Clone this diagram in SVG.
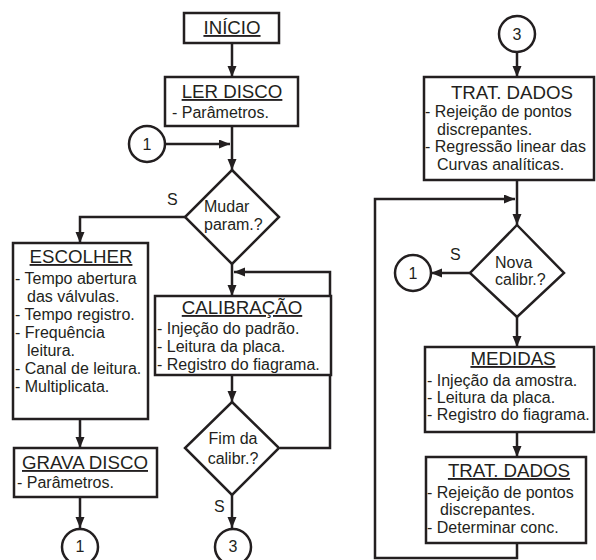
<svg xmlns="http://www.w3.org/2000/svg" width="596" height="560" viewBox="0 0 596 560">
<style>
.bx{fill:#fff;stroke:#231f20;stroke-width:2.5}
.ln{fill:none;stroke:#231f20;stroke-width:2.5}
.t{font-family:"Liberation Sans",Arial,sans-serif;font-size:16px;fill:#231f20}
.h{font-family:"Liberation Sans",Arial,sans-serif;font-size:18.7px;fill:#231f20;text-anchor:middle}
.u{text-decoration:underline}
.c{text-anchor:middle}
</style>
<defs>
<marker id="ar" markerUnits="userSpaceOnUse" markerWidth="12" markerHeight="10" refX="11" refY="4.5" orient="auto">
<path d="M0,0 L11,4.5 L0,9 z" fill="#231f20"/>
</marker>
</defs>
<g id="connectors" class="ln" marker-end="url(#ar)">
<path class="ln" d="M232,43 V77" marker-end="url(#ar)"/>
<path class="ln" d="M232,126 V170" marker-end="url(#ar)"/>
<path class="ln" d="M165,144 H230" marker-end="url(#ar)"/>
<path class="ln" d="M185,217 H80 V243" marker-end="url(#ar)"/>
<path class="ln" d="M232,264 V296" marker-end="url(#ar)"/>
<path class="ln" d="M280,448 H330 V272 H234" marker-end="url(#ar)"/>
<path class="ln" d="M232,375 V402" marker-end="url(#ar)"/>
<path class="ln" d="M232,495 V528" marker-end="url(#ar)"/>
<path class="ln" d="M80,419 V448" marker-end="url(#ar)"/>
<path class="ln" d="M80,497 V528" marker-end="url(#ar)"/>
<path class="ln" d="M517,52 V77" marker-end="url(#ar)"/>
<path class="ln" d="M517,180 V225" marker-end="url(#ar)"/>
<path class="ln" d="M517,543 V558 H375 V199 H515" marker-end="url(#ar)"/>
<path class="ln" d="M470,273 H431" marker-end="url(#ar)"/>
<path class="ln" d="M517,317 V347" marker-end="url(#ar)"/>
<path class="ln" d="M517,432 V457" marker-end="url(#ar)"/>
</g>
<g id="inicio"><rect class="bx" x="184" y="13" width="95" height="30"/><text class="h u" x="232" y="34">INÍCIO</text></g>
<g id="ler-disco"><rect class="bx" x="165" y="77" width="133" height="49"/><text class="h u" x="232" y="98">LER DISCO</text><text class="t" x="172" y="118">- Parâmetros.</text></g>
<g id="c1-top"><circle class="bx" cx="147" cy="144" r="18"/><text class="t c" x="147" y="150">1</text></g>
<g id="mudar"><polygon class="bx" points="232,170 279,217 232,264 185,217"/><text class="t" x="204" y="212">Mudar</text><text class="t" x="204" y="229.5">param.?</text></g>
<text class="t" x="167" y="205">S</text>
<g id="escolher"><rect class="bx" x="13" y="243" width="135" height="176"/><text class="h u" x="81" y="263">ESCOLHER</text>
<text class="t" x="15" y="284">- Tempo abertura</text>
<text class="t" x="27" y="302">das válvulas.</text>
<text class="t" x="15" y="320">- Tempo registro.</text>
<text class="t" x="15" y="338">- Frequência</text>
<text class="t" x="27" y="356">leitura.</text>
<text class="t" x="15" y="374">- Canal de leitura.</text>
<text class="t" x="15" y="392">- Multiplicata.</text></g>
<g id="grava-disco"><rect class="bx" x="14" y="448" width="143" height="49"/><text class="h u" x="85" y="469">GRAVA DISCO</text><text class="t" x="17" y="488">- Parâmetros.</text></g>
<g id="c1-bottom"><circle class="bx" cx="80" cy="547" r="18"/><text class="t c" x="80" y="552">1</text></g>
<g id="calibracao"><rect class="bx" x="155" y="296" width="176" height="79"/><text class="h u" x="242" y="314">CALIBRAÇÃO</text>
<text class="t" x="157" y="334">- Injeção do padrão.</text>
<text class="t" x="157" y="352">- Leitura da placa.</text>
<text class="t" x="157" y="370">- Registro do fiagrama.</text></g>
<g id="fim-calibr"><polygon class="bx" points="232,402 279,448 232,495 185,448"/><text class="t c" x="233" y="444">Fim da</text><text class="t c" x="233" y="464">calibr.?</text></g>
<text class="t" x="214" y="512">S</text>
<g id="c3-bottom"><circle class="bx" cx="233" cy="547" r="18"/><text class="t c" x="233" y="552">3</text></g>
<g id="c3-top"><circle class="bx" cx="517" cy="34" r="18"/><text class="t c" x="517" y="40">3</text></g>
<g id="trat-dados-1"><rect class="bx" x="424" y="77" width="170" height="103"/><text class="h" x="512" y="99">TRAT. DADOS</text>
<text class="t" x="425" y="117">- Rejeição de pontos</text>
<text class="t" x="437" y="135">discrepantes.</text>
<text class="t" x="425" y="152">- Regressão linear das</text>
<text class="t" x="437" y="170">Curvas analíticas.</text></g>
<g id="nova-calibr"><polygon class="bx" points="517,225 564,273 517,317 470,273"/><text class="t" x="495" y="268">Nova</text><text class="t" x="495" y="285">calibr.?</text></g>
<text class="t" x="450" y="260">S</text>
<g id="c1-right"><circle class="bx" cx="413" cy="273" r="18"/><text class="t c" x="413" y="279">1</text></g>
<g id="medidas"><rect class="bx" x="425" y="347" width="169" height="85"/><text class="h u" x="513" y="365">MEDIDAS</text>
<text class="t" x="427" y="386">- Injeção da amostra.</text>
<text class="t" x="427" y="403">- Leitura da placa.</text>
<text class="t" x="427" y="420">- Registro do fiagrama.</text></g>
<g id="trat-dados-2"><rect class="bx" x="426" y="457" width="160" height="86"/><text class="h u" x="509" y="477">TRAT. DADOS</text>
<text class="t" x="427" y="498">- Rejeição de pontos</text>
<text class="t" x="440" y="515">discrepantes.</text>
<text class="t" x="427" y="533">- Determinar conc.</text></g>
</svg>
